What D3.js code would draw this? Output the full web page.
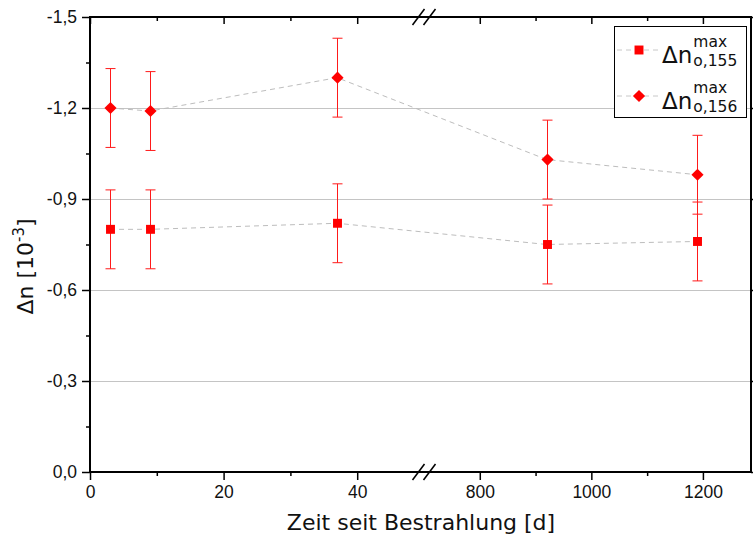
<!DOCTYPE html>
<html>
<head>
<meta charset="utf-8">
<script src="https://cdn.jsdelivr.net/npm/d3@7"></script>
<style>
  body { margin: 0; background: #fff; }
  svg { display: block; font-family: "DejaVu Sans", sans-serif; }
</style>
</head>
<body>
<div id="chart"></div>
<script>
"use strict";

// days since irradiation
var days = [3, 9, 37, 920, 1190];
// peak index change, 10^-3 (negative)
var dn155 = [-0.80, -0.80, -0.82, -0.75, -0.76];
var dn156 = [-1.20, -1.19, -1.30, -1.03, -0.98];
var err155 = [0.13, 0.13, 0.13, 0.13, 0.13];
var err156 = [0.13, 0.13, 0.13, 0.13, 0.13];

var leftTicks = [0, 20, 40], leftMinor = [10, 30];
var rightTicks = [800, 1000, 1200], rightMinor = [900, 1100];
var yTicks = [0, -0.3, -0.6, -0.9, -1.2, -1.5];
var yMinor = [-0.15, -0.45, -0.75, -1.05, -1.35];
var yGrid = [-0.3, -0.6, -0.9, -1.2];

var W = 753, H = 540,
    m = [17, 1, 68, 90], // top right bottom left
    brk = 424;

var xL = d3.scaleLinear().domain([0, 50]).range([m[3], brk]);
var xR = d3.scaleLinear().domain([700, 1288]).range([brk, W - m[1]]);
function x(v) { return v <= 50 ? xL(v) : xR(v); }
var y = d3.scaleLinear().domain([0, -1.5]).range([H - m[2], m[0]]);

var loc = d3.formatLocale({decimal: ",", thousands: ".", grouping: [3], currency: ["", ""], minus: "-"});
var fmt = loc.format(".1f");

var svg = d3.select("#chart").append("svg")
    .attr("width", W).attr("height", H);

// grid
svg.append("g").selectAll("line").data(yGrid).enter().append("line")
    .attr("x1", m[3]).attr("x2", W - m[1])
    .attr("y1", function(d) { return Math.round(y(d)) + 0.5; })
    .attr("y2", function(d) { return Math.round(y(d)) + 0.5; })
    .attr("stroke", "#c4c4c4").attr("stroke-width", 1);

function styleAxis(g) {
  g.select(".domain").remove();
  g.selectAll("line").attr("stroke", "#000").attr("stroke-width", 1.5);
  g.selectAll("text").attr("font-size", "17.5px").attr("fill", "#111");
}

// bottom axis (two segments)
[[xL, leftTicks, leftMinor], [xR, rightTicks, rightMinor]].forEach(function(s) {
  svg.append("g").attr("transform", "translate(0," + (H - m[2]) + ")")
      .call(d3.axisBottom(s[0]).tickValues(s[1]).tickSize(8).tickPadding(6).tickFormat(d3.format("d")))
      .call(styleAxis);
  svg.append("g").attr("transform", "translate(0," + (H - m[2]) + ")")
      .call(d3.axisBottom(s[0]).tickValues(s[2]).tickSize(4).tickFormat(""))
      .call(styleAxis);
  // top mirror ticks, inward
  svg.append("g").attr("transform", "translate(0," + m[0] + ")")
      .call(d3.axisBottom(s[0]).tickValues(s[1]).tickSize(7).tickFormat(""))
      .call(styleAxis);
  svg.append("g").attr("transform", "translate(0," + m[0] + ")")
      .call(d3.axisBottom(s[0]).tickValues(s[2]).tickSize(4).tickFormat(""))
      .call(styleAxis);
});

// left axis
svg.append("g").attr("transform", "translate(" + m[3] + ",0)")
    .call(d3.axisLeft(y).tickValues(yTicks).tickSize(8).tickPadding(5).tickFormat(fmt))
    .call(styleAxis);
svg.append("g").attr("transform", "translate(" + m[3] + ",0)")
    .call(d3.axisLeft(y).tickValues(yMinor).tickSize(4).tickFormat(""))
    .call(styleAxis);
// right axis
svg.append("g").attr("transform", "translate(" + (W - m[1] - 1) + ",0)")
    .call(d3.axisRight(y).tickValues(yTicks).tickSize(8).tickFormat(""))
    .call(styleAxis);

// frame
svg.append("rect")
    .attr("x", m[3]).attr("y", m[0])
    .attr("width", W - m[1] - m[3] - 1).attr("height", H - m[2] - m[0])
    .attr("fill", "none").attr("stroke", "#000").attr("stroke-width", 2);

// axis break marks
[m[0], H - m[2]].forEach(function(yy) {
  [-5.5, 5.5].forEach(function(o) {
    svg.append("line")
        .attr("x1", brk + o - 6).attr("y1", yy + 8)
        .attr("x2", brk + o + 6).attr("y2", yy - 8)
        .attr("stroke", "#000").attr("stroke-width", 1.5);
  });
});

// series
var series = [
  {v: dn155, e: err155, shape: d3.symbolSquare, size: 80, rot: 0},
  {v: dn156, e: err156, shape: d3.symbolSquare, size: 74, rot: 45}
];

series.forEach(function(s) {
  var pts = days.map(function(d, i) { return {x: d, y: s.v[i], e: s.e[i]}; });

  svg.append("path").datum(pts)
      .attr("fill", "none").attr("stroke", "#bdbdbd").attr("stroke-width", 1)
      .attr("stroke-dasharray", "5,4")
      .attr("d", d3.line().x(function(d) { return x(d.x); }).y(function(d) { return y(d.y); }));

  var eb = svg.append("g").attr("stroke", "#ff1a1a").attr("stroke-width", 1);
  pts.forEach(function(p) {
    var cx = Math.round(x(p.x)) + 0.5;
    var y0 = y(p.y - p.e), y1 = y(p.y + p.e);
    eb.append("line").attr("x1", cx).attr("x2", cx).attr("y1", y0).attr("y2", y1);
    eb.append("line").attr("x1", cx - 5).attr("x2", cx + 5).attr("y1", y0).attr("y2", y0);
    eb.append("line").attr("x1", cx - 5).attr("x2", cx + 5).attr("y1", y1).attr("y2", y1);
  });

  svg.append("g").selectAll("path").data(pts).enter().append("path")
      .attr("d", d3.symbol().type(s.shape).size(s.size))
      .attr("fill", "#ff0000")
      .attr("transform", function(d) {
        return "translate(" + (Math.round(x(d.x)) + 0.5) + "," + y(d.y) + ") rotate(" + s.rot + ")";
      });
});

// legend
var lg = svg.append("g");
lg.append("rect").attr("x", 614.5).attr("y", 26.5).attr("width", 132).attr("height", 91)
    .attr("fill", "#fff").attr("stroke", "#000").attr("stroke-width", 1);
var legendItems = [
  {sub: "o,155", s: series[0], cy: 50},
  {sub: "o,156", s: series[1], cy: 96}
];
legendItems.forEach(function(it) {
  lg.append("line").attr("x1", 617).attr("x2", 660).attr("y1", it.cy).attr("y2", it.cy)
      .attr("stroke", "#c8c8c8").attr("stroke-dasharray", "5,4");
  lg.append("path").attr("d", d3.symbol().type(it.s.shape).size(it.s.size))
      .attr("fill", "#ff0000")
      .attr("transform", "translate(639," + it.cy + ") rotate(" + it.s.rot + ")");
  var t = lg.append("text").attr("x", 662).attr("y", it.cy + 13)
      .attr("font-size", "23px").attr("fill", "#111").text("Δn");
  var w = t.node().getComputedTextLength();
  lg.append("text").attr("x", 662 + w + 1).attr("y", it.cy - 3)
      .attr("font-size", "15.5px").attr("fill", "#111").text("max");
  lg.append("text").attr("x", 662 + w + 1).attr("y", it.cy + 16)
      .attr("font-size", "15.5px").attr("fill", "#111").text(it.sub);
});

// axis titles
svg.append("text").attr("x", (m[3] + W - m[1]) / 2).attr("y", 530)
    .attr("text-anchor", "middle").attr("font-size", "22px").attr("fill", "#111")
    .text("Zeit seit Bestrahlung [d]");

var yt = svg.append("text").attr("transform", "translate(33," + ((m[0] + H - m[2]) / 2 + 22) + ") rotate(-90)")
    .attr("text-anchor", "middle").attr("font-size", "22px").attr("fill", "#111");
yt.append("tspan").text("Δn [10");
yt.append("tspan").attr("font-size", "15px").attr("dy", -9).text("-3");
yt.append("tspan").attr("dy", 9).text("]");
</script>
</body>
</html>
